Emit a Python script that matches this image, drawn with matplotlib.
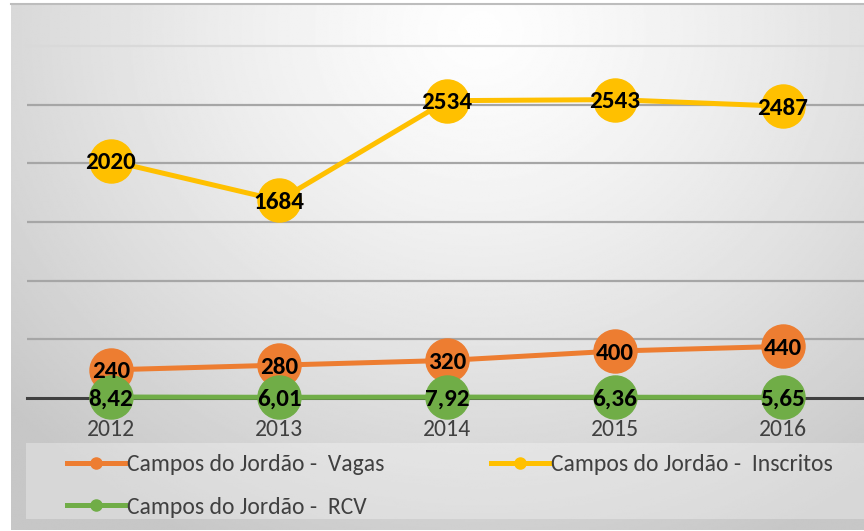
import numpy as np
import matplotlib.pyplot as plt
from matplotlib.lines import Line2D
from matplotlib.patches import Rectangle

years = ["2012", "2013", "2014", "2015", "2016"]
vagas = [240, 280, 320, 400, 440]
inscritos = [2020, 1684, 2534, 2543, 2487]
rcv = [8.42, 6.01, 7.92, 6.36, 5.65]
rcv_labels = ["8,42", "6,01", "7,92", "6,36", "5,65"]

series_names = ["Campos do Jordão -  Vagas", "Campos do Jordão -  Inscritos",
                "Campos do Jordão -  RCV"]
c_vagas = "#ED7D31"
c_insc = "#FFC000"
c_rcv = "#70AD47"

plt.rcParams["font.family"] = ["Carlito", "DejaVu Sans"]

W, H = 864, 531
fig = plt.figure(figsize=(W / 100, H / 100), dpi=100)
fig.patch.set_facecolor("white")

# ------------------------------
# background panel with soft radial gradient
# ------------------------------
bg = fig.add_axes([11 / W, 1 / H, (W - 11) / W, 527 / H], zorder=-10)
yy, xx = np.mgrid[0:1:300j, 0:1:600j]
r = np.sqrt(((xx - 0.55) / 0.75) ** 2 + ((yy - 0.05) / 1.1) ** 2)
shade = np.clip(0.995 - 0.22 * r ** 1.3, 0.78, 1.0)
bg.imshow(shade, cmap="gray", vmin=0, vmax=1, aspect="auto",
          extent=[0, 1, 1, 0], interpolation="bilinear")
bg.set_axis_off()

# thin top border of the panel
fig.add_artist(Line2D([11 / W, 1], [(H - 3.5) / H] * 2, color="#bdbdbd", lw=1.5,
                      transform=fig.transFigure))

# legend backdrop
fig.patches.append(Rectangle((26 / W, (H - 519) / H), (W - 26) / W, 76 / H,
                             transform=fig.transFigure, facecolor="white",
                             alpha=0.3, edgecolor="none", zorder=-5))

# ------------------------------
# main plot
# ------------------------------
ax = fig.add_axes([27 / W, (H - 398) / H, 840 / W, 352 / H])
ax.patch.set_alpha(0)
x = np.arange(len(years))

ax.set_xlim(-0.5, 4.5)
ax.set_ylim(0, 3000)
ax.set_yticks(np.arange(500, 2501, 500))
ax.yaxis.grid(True, color="#a6a6a6", linewidth=1.6)
ax.axhline(3000, color="#d9d9d9", linewidth=1.6, clip_on=False, zorder=1)
ax.axhline(0, color="#404040", linewidth=2.2, clip_on=False, zorder=1)
for s in ax.spines.values():
    s.set_visible(False)
ax.tick_params(axis="y", length=0, labelleft=False)
ax.tick_params(axis="x", length=0, pad=15, labelsize=17, labelcolor="#404040")
ax.set_xticks(x)
ax.set_xticklabels(years)

ms = 31
lw = 3.6
ax.plot(x, vagas, color=c_vagas, lw=lw, marker="o", ms=ms, zorder=3, clip_on=False)
ax.plot(x, inscritos, color=c_insc, lw=lw, marker="o", ms=ms, zorder=3, clip_on=False)
ax.plot(x, rcv, color=c_rcv, lw=lw, marker="o", ms=ms, zorder=3, clip_on=False)

lab = dict(ha="center", va="center_baseline", fontsize=18, fontweight="bold",
           color="black", zorder=5, clip_on=False)
for xi, v in zip(x, vagas):
    ax.text(xi, v, str(v), **lab)
for xi, v in zip(x, inscritos):
    ax.text(xi, v, str(v), **lab)
for xi, v, t in zip(x, rcv, rcv_labels):
    ax.text(xi, v, t, **lab)

# ------------------------------
# legend
# ------------------------------
handles = [
    Line2D([], [], color=c_vagas, lw=lw, marker="o", ms=8),
    Line2D([], [], color=c_rcv, lw=lw, marker="o", ms=8),
    Line2D([], [], color=c_insc, lw=lw, marker="o", ms=8),
]
labels = [series_names[0], series_names[2], series_names[1]]
leg = fig.legend(handles, labels, loc="upper left", ncol=2, frameon=False,
                 bbox_to_anchor=(67 / W, (H - 454) / H),
                 prop={"size": 17},
                 handlelength=2.45, handletextpad=0.1, columnspacing=4.5,
                 labelspacing=0.92, borderpad=0, borderaxespad=0, labelcolor="#404040")

fig.savefig("out.png", dpi=100)
